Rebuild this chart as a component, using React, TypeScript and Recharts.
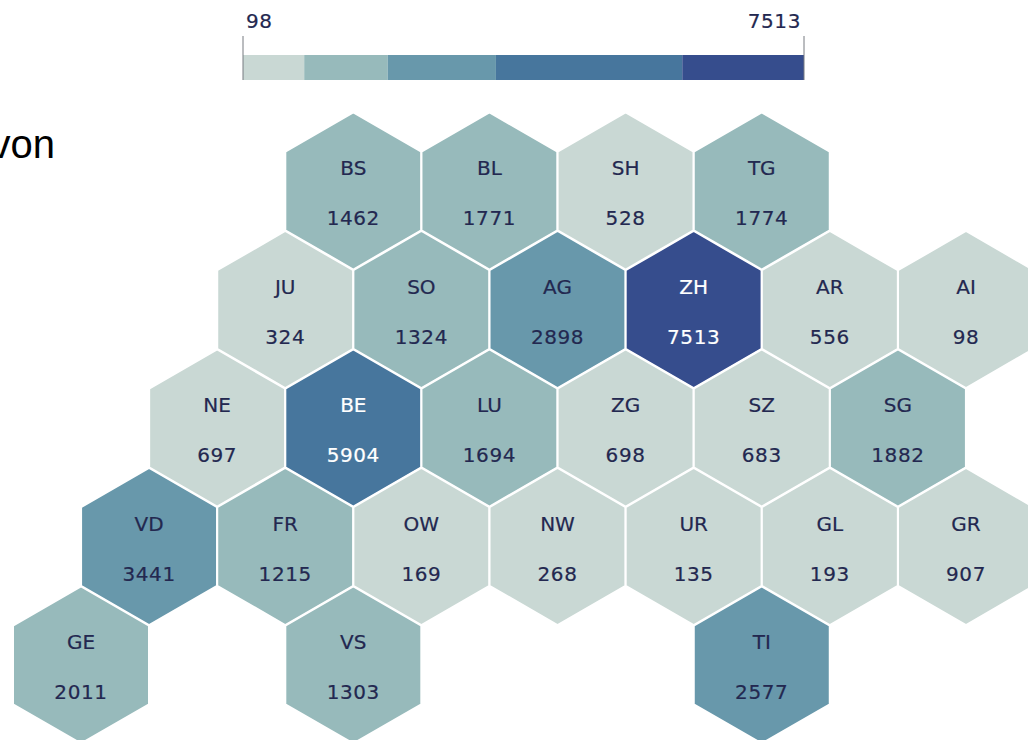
import { BarChart, Bar, ScatterChart, Scatter, XAxis, YAxis } from "recharts";

const codes = ["BS", "BL", "SH", "TG", "JU", "SO", "AG", "ZH", "AR", "AI", "NE", "BE", "LU", "ZG", "SZ", "SG", "VD", "FR", "OW", "NW", "UR", "GL", "GR", "GE", "VS", "TI"];
const values = [1462, 1771, 528, 1774, 324, 1324, 2898, 7513, 556, 98, 697, 5904, 1694, 698, 683, 1882, 3441, 1215, 169, 268, 135, 193, 907, 2011, 1303, 2577];
const cols = [4, 6, 8, 10, 3, 5, 7, 9, 11, 13, 2, 4, 6, 8, 10, 12, 1, 3, 5, 7, 9, 11, 13, 0, 4, 10];
const rows = [0, 0, 0, 0, 1, 1, 1, 1, 1, 1, 2, 2, 2, 2, 2, 2, 3, 3, 3, 3, 3, 3, 3, 4, 4, 4];

const breaks = [98, 907, 2011, 3441, 5904, 7513];
const colors = ["#c9d8d4", "#97babb", "#6898ab", "#47769d", "#364d8d"];

const FONT = "'DejaVu Sans', sans-serif";
const TEXT_COLOR = "#232850";

const cantons = codes.map((code, i) => ({ code, value: values[i], col: cols[i], row: rows[i] }));

const legendRow: Record<string, number> = { base: breaks[0] };
colors.forEach((_, i) => {
    legendRow[`s${i}`] = breaks[i + 1] - breaks[i];
});

function binIndex(v: number) {
    const i = breaks.findIndex((b, k) => k > 0 && v <= b);
    return i - 1;
}

function Hexagon(props: any) {
    const { cx, cy, payload } = props;
    const r = 78.5;
    const hw = 68;
    const pts = [
        [cx, cy - r],
        [cx + hw, cy - r / 2],
        [cx + hw, cy + r / 2],
        [cx, cy + r],
        [cx - hw, cy + r / 2],
        [cx - hw, cy - r / 2],
    ].map((p) => p.join(",")).join(" ");
    const bin = binIndex(payload.value);
    const ink = bin >= 3 ? "#ffffff" : TEXT_COLOR;
    const label = { textAnchor: "middle" as const, fontFamily: FONT, fontSize: 20, fill: ink, stroke: ink, strokeWidth: 0.2 };
    return (
        <g>
            <polygon points={pts} fill={colors[bin]} stroke="#ffffff" strokeWidth={2} />
            <text x={cx} y={cy - 16} {...label}>{payload.code}</text>
            <text x={cx} y={cy + 34} letterSpacing={0.6} {...label}>{payload.value}</text>
        </g>
    );
}

function LegendTick(props: any) {
    const { x, payload } = props;
    const first = payload.value === breaks[0];
    return (
        <g>
            <line x1={x} x2={x} y1={36} y2={80} stroke="#777a80" strokeWidth={1} />
            <text x={first ? x + 3 : x - 3} y={28} textAnchor={first ? "start" : "end"} fontFamily={FONT} fontSize={20} letterSpacing={0.6} fill={TEXT_COLOR} stroke={TEXT_COLOR} strokeWidth={0.2}>{payload.value}</text>
        </g>
    );
}

export default function App() {
    return (
        <div style={{ position: "absolute", left: 0, top: 0, width: 1028, height: 740, overflow: "hidden", background: "#fff" }}>
            <div style={{ position: "absolute", right: 973, top: 122, fontFamily: "'Liberation Sans', Arial, sans-serif", fontSize: 40, color: "#000", whiteSpace: "nowrap" }}>von</div>
            <div style={{ position: "absolute", left: 0, top: 0 }}>
                <BarChart width={1028} height={90} data={[legendRow]} layout="vertical" barCategoryGap={0} margin={{ top: 0, right: 224, bottom: 10, left: 243 }}>
                    <XAxis type="number" orientation="top" height={55} domain={[breaks[0], breaks[5]]} allowDataOverflow ticks={[breaks[0], breaks[5]]} axisLine={false} tickLine={false} tick={<LegendTick />} interval={0} />
                    <YAxis type="category" hide />
                    <Bar dataKey="base" stackId="a" fill="none" isAnimationActive={false} />
                    {colors.map((c, i) => (
                        <Bar key={c} dataKey={`s${i}`} stackId="a" fill={c} isAnimationActive={false} />
                    ))}
                </BarChart>
            </div>
            <div style={{ position: "absolute", left: 0, top: 0 }}>
                <ScatterChart width={1028} height={740} margin={{ top: 191, right: 62, bottom: 75, left: 81 }}>
                    <XAxis type="number" dataKey="col" domain={[0, 13]} hide />
                    <YAxis type="number" dataKey="row" domain={[0, 4]} reversed hide />
                    <Scatter data={cantons} shape={<Hexagon />} isAnimationActive={false} />
                </ScatterChart>
            </div>
        </div>
    );
}
